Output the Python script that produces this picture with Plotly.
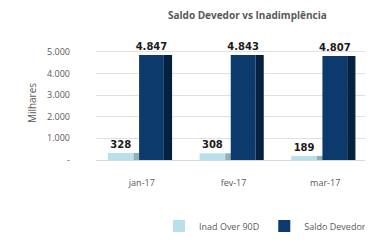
import plotly.graph_objects as go

categories = ["jan-17", "fev-17", "mar-17"]
inad_over_90d = [328, 308, 189]
saldo_devedor = [4847, 4843, 4807]
y_ticks = [0, 1000, 2000, 3000, 4000, 5000]
y_tick_labels = ["-", "1.000", "2.000", "3.000", "4.000", "5.000"]

def fmt(v):
    return f"{v:,}".replace(",", ".")

fig = go.Figure()
fig.add_trace(go.Bar(x=categories, y=inad_over_90d, name="Inad Over 90D",
                     offset=-0.37, width=0.28, marker_color="#b9dfea",
                     text=[fmt(v) for v in inad_over_90d], textposition="outside",
                     textfont=dict(family="DejaVu Sans", size=10, color="#1a1a1a"),
                     cliponaxis=False, constraintext="none"))
fig.add_trace(go.Bar(x=categories, y=inad_over_90d, showlegend=False, hoverinfo="skip",
                     offset=-0.09, width=0.07, marker_color="#8fafba"))
fig.add_trace(go.Bar(x=categories, y=saldo_devedor, name="Saldo Devedor",
                     offset=-0.03, width=0.27, marker_color="#0c3a6d",
                     text=[fmt(v) for v in saldo_devedor], textposition="outside",
                     textfont=dict(family="DejaVu Sans", size=10, color="#1a1a1a"),
                     cliponaxis=False, constraintext="none"))
fig.add_trace(go.Bar(x=categories, y=saldo_devedor, showlegend=False, hoverinfo="skip",
                     offset=0.24, width=0.09, marker_color="#06203f"))

fig.update_traces(marker_line_width=0)
fig.for_each_trace(lambda t: t.update(texttemplate="<b>%{text}</b>") if t.text is not None else None)

fig.update_layout(
    width=373, height=243,
    margin=dict(l=88, r=10, t=38, b=85),
    barmode="overlay",
    plot_bgcolor="white", paper_bgcolor="white",
    font=dict(family="Open Sans, DejaVu Sans", size=9, color="#595959"),
    xaxis=dict(showline=True, linecolor="#d9d9d9", ticks="", tickfont=dict(size=9),
               showgrid=False, ticklabelstandoff=14),
    yaxis=dict(range=[0, 5263], tickvals=y_ticks, ticktext=y_tick_labels,
               gridcolor="#e0e0e0", zeroline=False, ticklabelstandoff=25,
               title=dict(text="Milhares", font=dict(size=10), standoff=8),
               tickfont=dict(size=9)),
    legend=dict(orientation="h", x=1.0, xanchor="right", y=-0.58, yanchor="middle",
                font=dict(size=9), itemwidth=30),
    annotations=[dict(text="<b>Saldo Devedor vs Inadimplência</b>", xref="paper", yref="paper",
                      x=0.55, y=1.27, xanchor="center", yanchor="middle", showarrow=False,
                      font=dict(size=10, color="#595959"))],
)

fig.write_html("out.html")
